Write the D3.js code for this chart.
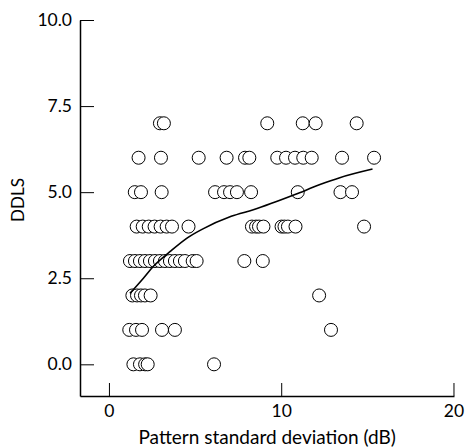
<html>
<head>
<script src="https://d3js.org/d3.v7.min.js"></script>
<style>
  body { margin: 0; background: white; }
  .axis path, .axis line { stroke: black; }
  .axis text { font-family: Lato, sans-serif; font-size: 17.5px; fill: black; }
  .dot { fill: white; stroke: black; stroke-width: 1; }
  .fit { fill: none; stroke: black; stroke-width: 1.6; }
  .label { font-family: Lato, sans-serif; font-size: 17px; fill: black; }
</style>
</head>
<body>
<svg id="chart" width="466" height="448"></svg>
<script>
// DDLS score levels and the PSD (dB) values of the points sitting on each level
const ddlsLevels = [0, 1, 2, 3, 4, 5, 6, 7];
const psdLevel0 = [1.42, 1.80, 2.10, 2.25, 6.10];
const psdLevel1 = [1.18, 1.57, 1.92, 3.08, 3.83, 12.89];
const psdLevel2 = [1.36, 1.63, 1.86, 2.09, 2.42, 12.2];
const psdLevel3 = [1.22, 1.51, 1.80, 2.09, 2.38, 2.67, 2.96, 3.25, 3.54, 3.83, 4.12, 4.41, 4.86, 5.09, 7.86, 8.93];
const psdLevel4 = [1.61, 1.96, 2.31, 2.65, 3.00, 3.35, 3.66, 4.62, 8.30, 8.54, 8.71, 8.97, 10.02, 10.19, 10.39, 10.83, 14.81];
const psdLevel5 = [1.50, 1.86, 3.06, 6.16, 6.68, 7.03, 7.43, 8.25, 10.96, 13.44, 14.11];
const psdLevel6 = [1.72, 3.02, 5.21, 6.83, 7.90, 8.15, 9.77, 10.28, 10.80, 11.28, 11.77, 13.53, 15.39];
const psdLevel7 = [2.96, 3.19, 9.19, 11.25, 12.0, 14.38];

// smoothed fit line
const fitX = [1.22, 2.0, 2.57, 3.54, 4.51, 5.4, 7.1, 8.38, 10.8, 12.25, 13.4, 15.3];
const fitY = [2.06, 2.5, 2.84, 3.27, 3.66, 3.92, 4.3, 4.49, 4.93, 5.22, 5.42, 5.67];

const xTicks = [0, 10, 20];
const yTicks = [0, 2.5, 5, 7.5, 10];

const psdRows = [psdLevel0, psdLevel1, psdLevel2, psdLevel3, psdLevel4, psdLevel5, psdLevel6, psdLevel7];
const points = [];
psdRows.forEach((row, i) => row.forEach(v => points.push({x: v, y: ddlsLevels[i]})));

const svg = d3.select("#chart");
const plotLeft = 80, plotRight = 454, plotTop = 20, plotBottom = 396;

const x = d3.scaleLinear().domain([-1.68, 20.03]).range([plotLeft, plotRight]);
const y = d3.scaleLinear().domain([-0.92, 10]).range([plotBottom, plotTop]);

svg.append("g")
  .attr("class", "axis")
  .attr("transform", "translate(0," + plotBottom + ")")
  .call(d3.axisBottom(x).tickValues(xTicks).tickFormat(d3.format("d"))
    .tickSizeInner(-13).tickSizeOuter(0).tickPadding(9));

svg.append("g")
  .attr("class", "axis")
  .attr("transform", "translate(" + plotLeft + ",0)")
  .call(d3.axisLeft(y).tickValues(yTicks).tickFormat(d3.format(".1f"))
    .tickSizeInner(-14).tickSizeOuter(0).tickPadding(8));

svg.selectAll(".axis path.domain").attr("stroke-width", 1.5);

svg.selectAll("circle.dot").data(points)
  .join("circle")
  .attr("class", "dot")
  .attr("cx", d => x(d.x))
  .attr("cy", d => y(d.y))
  .attr("r", 6.5);

const line = d3.line()
  .x((d, i) => x(fitX[i]))
  .y((d, i) => y(fitY[i]))
  .curve(d3.curveMonotoneX);

svg.append("path")
  .datum(fitX)
  .attr("class", "fit")
  .attr("d", line);

svg.append("text")
  .attr("class", "label")
  .attr("x", (x(0) + x(20)) / 2 - 14)
  .attr("y", 444)
  .attr("text-anchor", "middle")
  .style("font-size", "19px")
  .text("Pattern standard deviation (dB)");

svg.append("text")
  .attr("class", "label")
  .attr("transform", "translate(24,200) rotate(-90)")
  .attr("text-anchor", "middle")
  .text("DDLS");
</script>
</body>
</html>
